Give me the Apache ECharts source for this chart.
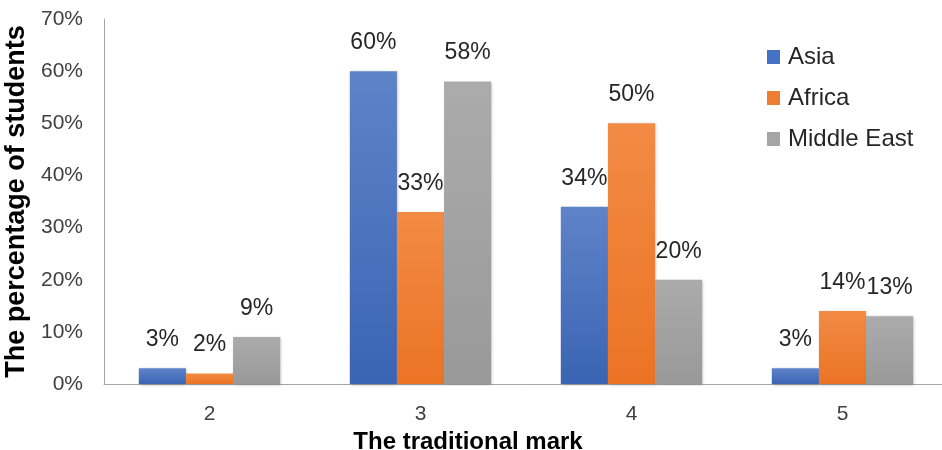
<!DOCTYPE html>
<html><head><meta charset="utf-8">
<script src="https://cdn.jsdelivr.net/npm/echarts@6/dist/echarts.min.js"></script>
<style>html,body{margin:0;padding:0;background:#fff}#c{width:942px;height:450px}</style>
</head><body><div id="c"></div>
<script>
const categories = ['2', '3', '4', '5'];
const asia = [3, 60, 34, 3];
const africa = [2, 33, 50, 14];
const middleEast = [9, 58, 20, 13];
const seriesNames = ['Asia', 'Africa', 'Middle East'];
const yTicks = [0, 10, 20, 30, 40, 50, 60, 70];

const FONT = 'Liberation Sans';
function grad(top, bottom) {
  return new echarts.graphic.LinearGradient(0, 0, 0, 1, [{offset: 0, color: top}, {offset: 1, color: bottom}]);
}
const colors = [grad('#5F83C9', '#3A64B3'), grad('#F28B45', '#EB7324'), grad('#ABABAB', '#999999')];
const legendColors = ['#4472C4', '#ED7D31', '#A5A5A5'];
const datasets = [asia, africa, middleEast];

const chart = echarts.init(document.getElementById('c'));
chart.setOption({
  animation: false,
  backgroundColor: '#fff',
  legend: {
    orient: 'vertical', left: 767, top: 45, padding: 0, itemGap: 17, itemWidth: 13, itemHeight: 14,
    icon: 'rect',
    textStyle: {fontFamily: FONT, fontSize: 24, color: '#262626', padding: [0, 0, 0, 3]},
    data: seriesNames.map((n, i) => ({name: n, itemStyle: {color: legendColors[i]}}))
  },
  grid: {left: 104, right: -6, top: 19, bottom: 66, outerBoundsMode: 'none', containLabel: false},
  xAxis: {
    type: 'category', data: categories,
    axisLine: {lineStyle: {color: '#A6A6A6'}}, axisTick: {show: false},
    axisLabel: {margin: 20, fontFamily: FONT, fontSize: 21, color: '#404040'},
    name: 'The traditional mark', nameLocation: 'middle', nameGap: 36,
    nameTextStyle: {fontFamily: FONT, fontSize: 24, fontWeight: 'bold', color: '#000', padding: [0, 116, 0, 0]}
  },
  yAxis: {
    type: 'value', min: 0, max: 70, interval: 10,
    axisLine: {show: true, lineStyle: {color: '#A6A6A6'}}, axisTick: {show: false},
    splitLine: {show: false},
    axisLabel: {margin: 21, fontFamily: FONT, fontSize: 21, color: '#404040', formatter: v => v + '%'},
    name: 'The percentage of students', nameLocation: 'middle', nameGap: 69, nameRotate: 90,
    nameTextStyle: {fontFamily: FONT, fontSize: 27, fontWeight: 'bold', color: '#000'}
  },
  series: seriesNames.map((n, i) => ({
    name: n, type: 'bar', data: datasets[i],
    barGap: '0%', barCategoryGap: '33%',
    itemStyle: {color: colors[i], shadowColor: 'rgba(0,0,0,0.25)', shadowBlur: 3, shadowOffsetX: 1, shadowOffsetY: 1},
    label: {show: true, position: 'top', distance: 17, formatter: p => p.value + '%',
      fontFamily: FONT, fontSize: 23, color: '#262626'}
  }))
});
</script></body></html>
